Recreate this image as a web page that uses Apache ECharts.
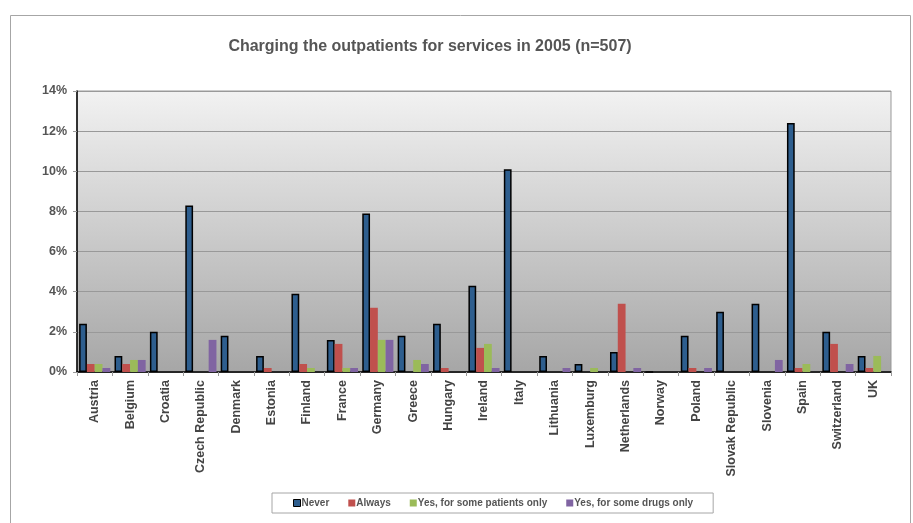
<!DOCTYPE html>
<html><head><meta charset="utf-8">
<script src="https://cdn.jsdelivr.net/npm/echarts@6/dist/echarts.min.js"></script>
<style>html,body{margin:0;padding:0;background:#fff}#c{width:913px;height:523px}</style>
</head><body><div id="c"></div>
<script>
const categories = ['Austria','Belgium','Croatia','Czech Republic','Denmark','Estonia','Finland','France','Germany','Greece','Hungary','Ireland','Italy','Lithuania','Luxemburg','Netherlands','Norway','Poland','Slovak Republic','Slovenia','Spain','Switzerland','UK'];
const never   = [2.4,0.8,2.0,8.3,1.8,0.8,3.9,1.6,7.9,1.8,2.4,4.3,10.1,0.8,0.4,1.0,0,1.8,3.0,3.4,12.4,2.0,0.8];
const always  = [0.4,0.4,0,0,0,0.2,0.4,1.4,3.2,0,0.2,1.2,0,0,0,3.4,0,0.2,0,0,0.2,1.4,0.2];
const somePatients = [0.4,0.6,0,0,0,0,0.2,0.2,1.6,0.6,0,1.4,0,0,0.2,0,0,0,0,0,0.4,0,0.8];
const someDrugs = [0.2,0.6,0,1.6,0,0,0,0.2,1.6,0.4,0,0.2,0,0.2,0,0.2,0,0.2,0,0.6,0,0.4,0];
const seriesNames = ['Never','Always','Yes, for some patients only','Yes, for some drugs only'];
const yTicks = [0,2,4,6,8,10,12,14];

const chart = echarts.init(document.getElementById('c'));
const font = 'Liberation Sans, Arial, sans-serif';
const colors = ['#2E5E8E','#C0504D','#9BBB59','#8064A2'];
const dataSets = [never, always, somePatients, someDrugs];
chart.setOption({
  animation:false,
  title:{text:'Charging the outpatients for services in 2005 (n=507)',left:425,textAlign:'center',top:34,
    textStyle:{fontFamily:font,fontSize:16,fontWeight:'bold',color:'#555'}},
  graphic:[{type:'rect',shape:{x:10.5,y:15.5,width:900,height:520},style:{fill:'none',stroke:'#A6A6A6',lineWidth:1},z:-10}],
  grid:{left:77,top:91,right:22,bottom:151,show:true,borderColor:'#999',borderWidth:1,
    backgroundColor:new echarts.graphic.LinearGradient(0,0,0,1,[{offset:0,color:'#F2F2F2'},{offset:1,color:'#A6A6A6'}])},
  legend:{data:seriesNames.map((n,i)=>i===0?{name:n,itemStyle:{borderColor:'#000',borderWidth:1}}:{name:n}),
    left:272,top:493,width:441,height:20,itemWidth:7,itemHeight:7,itemGap:19,
    padding:[5,20,5,21],borderColor:'#A6A6A6',borderWidth:1,icon:'rect',
    textStyle:{fontFamily:font,fontSize:10,fontWeight:'bold',color:'#555',padding:[0,0,0,-4]}},
  xAxis:{type:'category',data:categories,
    axisLine:{lineStyle:{color:'#000',width:1.5}},
    axisTick:{show:true,alignWithLabel:false,length:4,lineStyle:{color:'#999'}},
    axisLabel:{rotate:90,interval:0,fontFamily:font,fontSize:12.5,fontWeight:'bold',color:'#444',margin:8}},
  yAxis:{type:'value',min:0,max:14,interval:2,
    axisLine:{show:true,lineStyle:{color:'#000',width:1.5}},
    axisTick:{show:true,length:4,lineStyle:{color:'#999'}},
    splitLine:{lineStyle:{color:'#999',width:1}},
    axisLabel:{fontFamily:font,fontSize:12.5,fontWeight:'bold',color:'#555',margin:10,
      formatter:v=>yTicks.includes(v)?v+'%':''}},
  series:dataSets.map((d,i)=>({
    name:seriesNames[i],type:'bar',data:d,barGap:'0%',barCategoryGap:'12%',
    itemStyle:i===0?{color:colors[i],borderColor:'#000',borderWidth:1.5}:{color:colors[i]}
  }))
});
</script></body></html>
